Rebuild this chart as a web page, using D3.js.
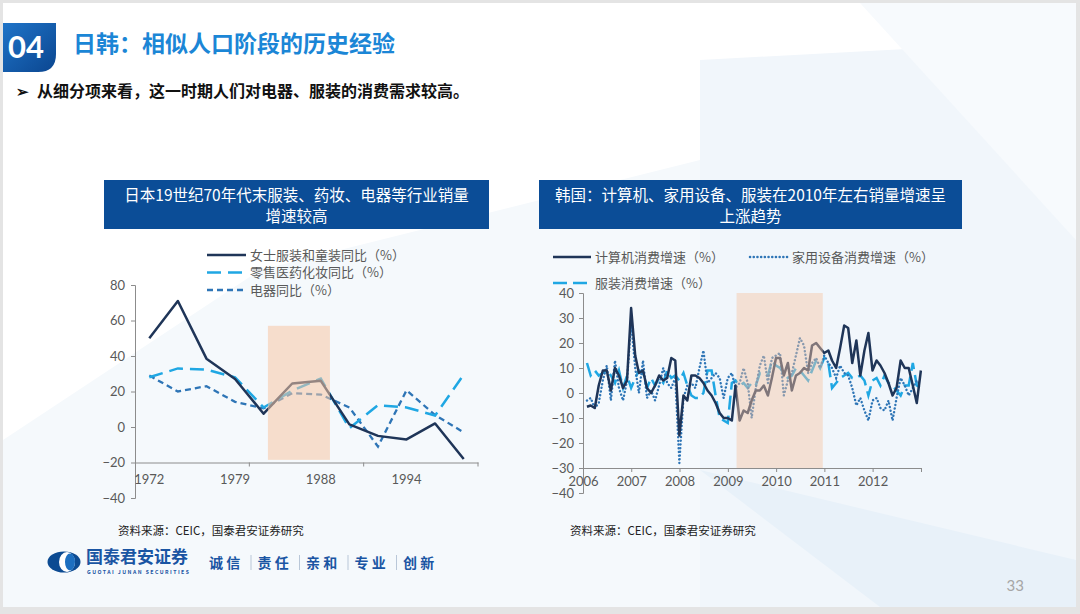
<!DOCTYPE html>
<html><head><meta charset="utf-8">
<script src="https://cdn.jsdelivr.net/npm/d3@7"></script>
<style>
html,body{margin:0;padding:0;background:#e4e4e4;}
svg{display:block;}
text{font-family:"Noto Sans CJK SC","Noto Sans",sans-serif;}
.num{font-family:Lato,"Open Sans",sans-serif;}
</style></head>
<body>
<svg id="c" width="1080" height="614"></svg>
<script>
// ---------------- DATA ----------------
const jpYears = ['1972','1975','1977','1979','1982','1985','1988','1990','1992','1994','1996','1998'];
const jpLabelYears = ['1972','1979','1988','1994'];
const jpWomen = [50, 71, 38.5, 27, 7.5, 24.5, 26, 1.5, -5, -7, 2, -18];
const jpCosmetics = [28, 33, 32.3, 28, 11, 20.5, 27.3, -0.7, 12.3, 11, 6.5, 29.5];
const jpAppliance = [29, 20, 23, 14.2, 10.5, 19, 18.3, 11, -11, 20.7, 6.7, -3];
const jpYTicks = [-40, -20, 0, 20, 40, 60, 80];
const jpShadeIdx = [4.65, 6.82];      // band-index span of highlighted period
const jpShadeVal = [57, -18.5];

const krMonths = d3.range(84).map(i => new Date(2006, i + 1, 0)); // month-end dates Jan 2006..Dec 2012
const krComputer = [
  -5.5, -5, -6, 3, 9, 9, 1, 10, 7, 2, 5, 34,
  15, 8, 9, 2, 0, 3, 7, 5, 6, 14, 13, -17,
  -1, -3, 7, 7, 6, 4, 1, -1, -4, -8, -10, -10,
  -11, 3, -11, -7, -8, -3, 1, 1, 3, -1, 6, 14,
  14, 7, 12, 1, 7, 8, 10, 9, 19, 20, 18, 16,
  17, 13, 10, 18, 27, 26, 12, 21, 7, 17, 24, 9,
  13, 11, 8, 4, -1, 2, 13, 10, 10, 3, -4, 9];
const krAppliance = [
  -3, -2, -6, -4, 5, 11, -3, 13, 2, -3, 5, 28,
  10, 0, 13, -2, 1, -3, 3, 10, 4, 2, 6, -28,
  -2, 3, 4, 2, 10, 17, 4, 6, 8, 6, -2, 6,
  8, 2, 4, 10, 4, -10, 2, 11, 15, 4, 14, 15,
  16, -1, 5, 8, 15, 22, 19, 8, 12, 14, 10, 15,
  12, 10, 6, 11, 8, 7, 2, -5, -2, -7, -11, -3,
  -2, -6, -7, -3, -11, -2, 6, 3, -1, 2, 5, 3];
const krClothing = [
  12, 7, 9, 7, 8, 9, 7, 4, 9, 2, 7, 2,
  6, 9, 8, 2, 6, 3, 6, 4, 9, 6, 7, 5,
  8, 3, -1, -2, -2, 0, 9, 9, -1, -10, -11, -12,
  4, 5, 3, 4, 2, 4, 3, 8, 8, 7, 13, 11,
  10, 8, 6, 7, 10, 9, 7, 5, 9, 13, 10, 14,
  12, 2, 4, 6, 7, 8, 6, 6, 7, 5, -1, 5,
  6, 3, 7, 4, 3, 1, -1, 3, 3, 12, 3, 2];
const krYTicks = [-40, -30, -20, -10, 0, 10, 20, 30, 40];
const krYearTicks = d3.range(2006, 2013);
const krShade = [new Date(2009, 2, 8), new Date(2010, 11, 20)];
const krShadeVal = [40, -30];

// ---------------- STYLE ----------------
const C = {navy:'#1f3558', cyan:'#1fa7e3', mid:'#2e75b6', axis:'#8c8c8c', tick:'#595959',
           shade:'#f6c6a4', box:'#0b4d97'};

const svg = d3.select('#c');

// slide background
svg.append('rect').attr('x',3).attr('y',3).attr('width',1073).attr('height',604).attr('fill','#ffffff');
const deco = svg.append('g');
deco.append('path').attr('d','M3,440 L260,270 L700,160 L700,607 L3,607Z').attr('fill','#f5f9fc');
deco.append('path').attr('d','M700,60 L1076,40 L1076,607 L700,607Z').attr('fill','#f1f6fb');
deco.append('path').attr('d','M700,470 L1076,560 L1076,607 L880,607Z').attr('fill','#e8f1f9');
deco.append('path').attr('d','M860,3 L1076,3 L1076,240Z').attr('fill','#f7fafd');

// header tab
const grad = svg.append('defs').append('linearGradient').attr('id','tabg').attr('x1','0').attr('y1','0').attr('x2','1').attr('y2','1');
grad.append('stop').attr('offset','0').attr('stop-color','#1f74c8');
grad.append('stop').attr('offset','1').attr('stop-color','#0b4690');
svg.append('path').attr('d','M3,23 L56,23 L56,54 Q56,72 38,72 L3,72Z').attr('fill','url(#tabg)');
svg.append('text').attr('class','num').attr('x',8).attr('y',58).attr('fill','#fff')
  .attr('font-size',31).attr('font-weight',700).text('04');
svg.append('text').attr('x',73).attr('y',52).attr('fill','#1b86d6')
  .attr('font-size',23).attr('font-weight',700).text('日韩：相似人口阶段的历史经验');
svg.append('text').attr('x',16).attr('y',97).attr('fill','#111').attr('font-size',15).attr('font-weight',700).text('➢');
svg.append('text').attr('x',37).attr('y',97).attr('fill','#111')
  .attr('font-size',16).attr('font-weight',700).text('从细分项来看，这一时期人们对电器、服装的消费需求较高。');

// chart title boxes
function titleBox(x, w, l1, l2){
  svg.append('rect').attr('x',x).attr('y',180).attr('width',w).attr('height',49).attr('fill',C.box);
  svg.append('text').attr('x',x+w/2).attr('y',201).attr('text-anchor','middle').attr('fill','#fff').attr('font-size',15.5).text(l1);
  svg.append('text').attr('x',x+w/2).attr('y',222).attr('text-anchor','middle').attr('fill','#fff').attr('font-size',15.5).text(l2);
}
titleBox(104, 385, '日本19世纪70年代末服装、药妆、电器等行业销量', '增速较高');
titleBox(539, 423, '韩国：计算机、家用设备、服装在2010年左右销量增速呈', '上涨趋势');

// ---------------- JAPAN CHART ----------------
const jx = d3.scaleBand().domain(jpYears).range([135, 478]).paddingInner(0).paddingOuter(0);
const jy = d3.scaleLinear().domain([-40, 80]).range([498, 285]);
const jc = i => jx(jpYears[i]) + jx.bandwidth()/2;
const gJ = svg.append('g');

gJ.append('g').attr('transform',`translate(${jx.range()[0]},0)`)
  .call(d3.axisLeft(jy).tickValues(jpYTicks).tickSize(4).tickPadding(6))
  .call(g=>{g.select('.domain').attr('stroke',C.axis);
            g.selectAll('line').attr('stroke',C.axis);
            g.selectAll('text').attr('class','num').attr('fill',C.tick).attr('font-size',13);});
const xAxisY = jy(-20);
gJ.append('g').attr('transform',`translate(0,${xAxisY})`)
  .call(d3.axisBottom(jx).tickValues(jpLabelYears).tickSize(0).tickPadding(12))
  .call(g=>{g.select('.domain').attr('stroke',C.axis);
            g.selectAll('text').attr('class','num').attr('fill',C.tick).attr('font-size',13);});
[4, 8, 12].forEach(i=>{
  const xv = jx.range()[0] + i*jx.step();
  gJ.append('line').attr('x1',xv).attr('x2',xv).attr('y1',xAxisY).attr('y2',xAxisY+4).attr('stroke',C.axis);
});

const jLine = d3.line().x((d,i)=>jc(i)).y(d=>jy(d));
gJ.append('path').datum(jpAppliance).attr('d',jLine).attr('fill','none')
  .attr('stroke',C.mid).attr('stroke-width',2.3).attr('stroke-dasharray','6,4');
gJ.append('path').datum(jpCosmetics).attr('d',jLine).attr('fill','none')
  .attr('stroke',C.cyan).attr('stroke-width',2.5).attr('stroke-dasharray','14,7');
gJ.append('path').datum(jpWomen).attr('d',jLine).attr('fill','none')
  .attr('stroke',C.navy).attr('stroke-width',2.5).attr('stroke-linejoin','round');
gJ.append('rect')
  .attr('x', jx.range()[0] + jpShadeIdx[0]*jx.step())
  .attr('width', (jpShadeIdx[1]-jpShadeIdx[0])*jx.step())
  .attr('y', jy(jpShadeVal[0])).attr('height', jy(jpShadeVal[1]) - jy(jpShadeVal[0]))
  .attr('fill', C.shade).attr('opacity', 0.55);

const jLeg = [
  {t:'女士服装和童装同比（%）', c:C.navy, d:null, w:2.5},
  {t:'零售医药化妆同比（%）', c:C.cyan, d:'14,7', w:2.5},
  {t:'电器同比（%）', c:C.mid, d:'6,4', w:2.3}];
jLeg.forEach((l,i)=>{
  const y = 255 + i*17.5;
  gJ.append('line').attr('x1',207).attr('x2',246).attr('y1',y).attr('y2',y)
    .attr('stroke',l.c).attr('stroke-width',l.w).attr('stroke-dasharray',l.d);
  gJ.append('text').attr('x',250).attr('y',y+4.5).attr('fill','#595959').attr('font-size',13).text(l.t);
});

// ---------------- KOREA CHART ----------------
const kx = d3.scaleTime().domain([new Date(2006,0,1), new Date(2013,0,1)]).range([583, 921]);
const ky = d3.scaleLinear().domain([-40, 40]).range([493, 293]);
const gK = svg.append('g');

gK.append('g').attr('transform',`translate(${kx.range()[0]},0)`)
  .call(d3.axisLeft(ky).tickValues(krYTicks).tickSize(4).tickPadding(5))
  .call(g=>{g.select('.domain').attr('stroke',C.axis);
            g.selectAll('line').attr('stroke',C.axis);
            g.selectAll('text').attr('class','num').attr('fill',C.tick).attr('font-size',13);});
const kAxisY = ky(-30);
gK.append('g').attr('transform',`translate(0,${kAxisY})`)
  .call(d3.axisBottom(kx).tickValues(krYearTicks.map(y=>new Date(y,0,1)).concat([new Date(2013,0,1)]))
        .tickSize(4).tickPadding(5).tickFormat(d=>d.getFullYear()<2013?d.getFullYear():''))
  .call(g=>{g.select('.domain').attr('stroke',C.axis);
            g.selectAll('line').attr('stroke',C.axis);
            g.selectAll('text').attr('class','num').attr('fill',C.tick).attr('font-size',13);});

const kLine = arr => d3.line().x((d,i)=>kx(krMonths[i])).y(d=>ky(d))(arr);
gK.append('path').attr('d',kLine(krClothing)).attr('fill','none')
  .attr('stroke',C.cyan).attr('stroke-width',2.5).attr('stroke-dasharray','14,6');
gK.append('path').attr('d',kLine(krAppliance)).attr('fill','none')
  .attr('stroke',C.mid).attr('stroke-width',2.4).attr('stroke-dasharray','0.1,3.6').attr('stroke-linecap','round');
gK.append('path').attr('d',kLine(krComputer)).attr('fill','none')
  .attr('stroke',C.navy).attr('stroke-width',2.5).attr('stroke-linejoin','round');
gK.append('rect')
  .attr('x', kx(krShade[0])).attr('width', kx(krShade[1]) - kx(krShade[0]))
  .attr('y', ky(krShadeVal[0])).attr('height', ky(krShadeVal[1]) - ky(krShadeVal[0]))
  .attr('fill', C.shade).attr('opacity', 0.45);

const kLeg = [
  {t:'计算机消费增速（%）', c:C.navy, d:null, x:553, y:257, cap:'butt'},
  {t:'家用设备消费增速（%）', c:C.mid, d:'0.1,3.6', x:750, y:257, cap:'round'},
  {t:'服装消费增速（%）', c:C.cyan, d:'14,6', x:553, y:283, cap:'butt'}];
kLeg.forEach(l=>{
  gK.append('line').attr('x1',l.x).attr('x2',l.x+38).attr('y1',l.y).attr('y2',l.y)
    .attr('stroke',l.c).attr('stroke-width',2.5).attr('stroke-dasharray',l.d).attr('stroke-linecap',l.cap);
  gK.append('text').attr('x',l.x+42).attr('y',l.y+4.5).attr('fill','#595959').attr('font-size',13).text(l.t);
});

// sources
svg.append('text').attr('x',118).attr('y',535).attr('fill','#222').attr('font-size',11.5).text('资料来源：CEIC，国泰君安证券研究');
svg.append('text').attr('x',570).attr('y',535).attr('fill','#222').attr('font-size',11.5).text('资料来源：CEIC，国泰君安证券研究');

// footer logo
const lg = svg.append('g');
lg.append('ellipse').attr('cx',64).attr('cy',562).attr('rx',16.5).attr('ry',10.5).attr('fill','#0c4b92');
lg.append('ellipse').attr('cx',67).attr('cy',562).attr('rx',8).attr('ry',10).attr('fill','#ffffff');
lg.append('ellipse').attr('cx',70).attr('cy',562).attr('rx',5).attr('ry',8.5).attr('fill','#1d6fc0');
lg.append('text').attr('x',86).attr('y',563).attr('fill','#1a55a3').attr('font-size',17).attr('font-weight',700).text('国泰君安证券');
lg.append('text').attr('x',87).attr('y',574).attr('fill','#1a55a3').attr('font-size',5.2).attr('font-weight',700)
  .attr('font-family','Liberation Sans, Arial').attr('textLength',102).text('GUOTAI JUNAN SECURITIES');
const slogan = ['诚 信','责 任','亲 和','专 业','创 新'];
slogan.forEach((s,i)=>{
  const x0 = 209 + i*48.5;
  lg.append('text').attr('x',x0).attr('y',568).attr('fill','#1a55a3').attr('font-size',14).attr('font-weight',700).text(s);
  if(i<4) lg.append('line').attr('x1',x0+42).attr('x2',x0+42).attr('y1',555).attr('y2',570).attr('stroke','#b9c7d8').attr('stroke-width',1);
});
svg.append('text').attr('class','num').attr('x',1024).attr('y',591).attr('text-anchor','end')
  .attr('fill','#a6a6a6').attr('font-size',15).text('33');
</script>
</body></html>
